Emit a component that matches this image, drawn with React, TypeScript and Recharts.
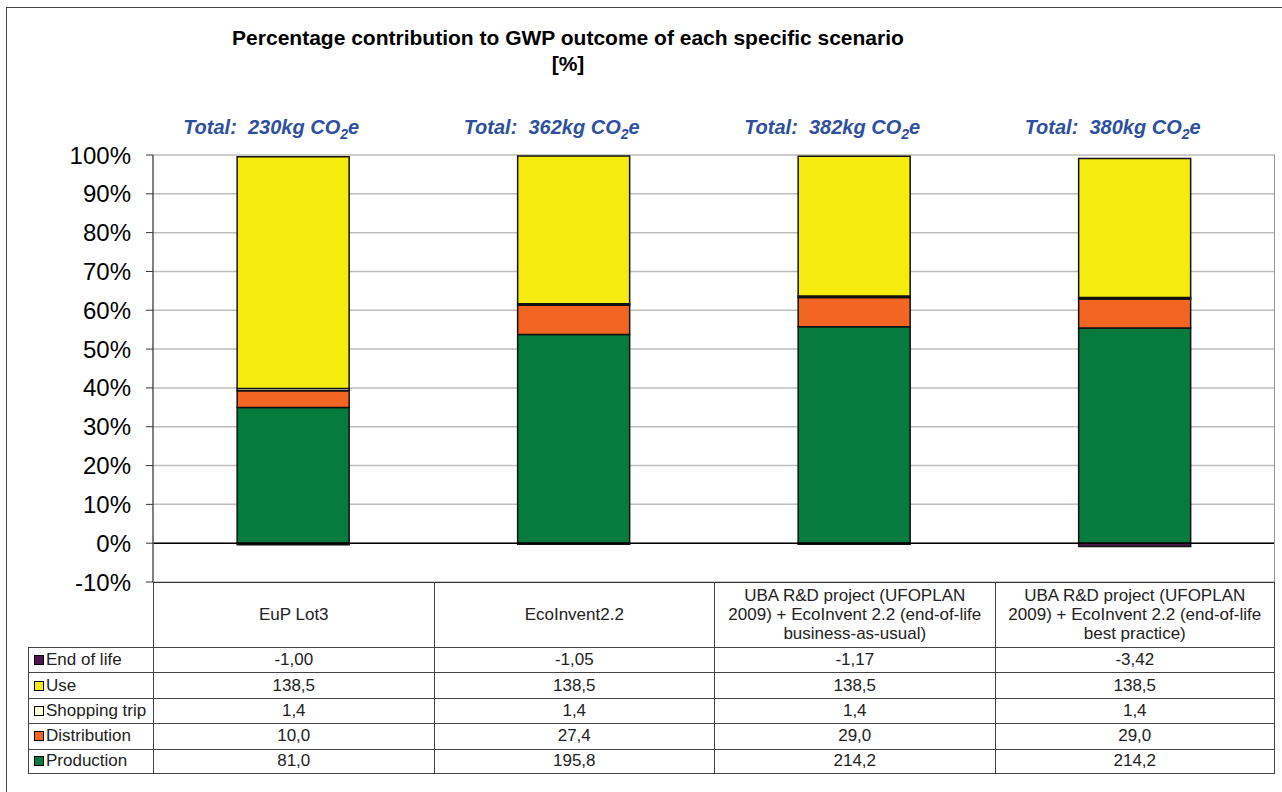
import { BarChart, Bar, XAxis, YAxis, CartesianGrid, ReferenceLine, LabelList } from "recharts";

const categories = [
  "EuP Lot3",
  "EcoInvent2.2",
  "UBA R&D project (UFOPLAN\n2009) + EcoInvent 2.2 (end-of-life\nbusiness-as-usual)",
  "UBA R&D project (UFOPLAN\n2009) + EcoInvent 2.2 (end-of-life\nbest practice)",
];

// kg CO2e per scenario
const production = [81.0, 195.8, 214.2, 214.2];
const distribution = [10.0, 27.4, 29.0, 29.0];
const shoppingTrip = [1.4, 1.4, 1.4, 1.4];
const use = [138.5, 138.5, 138.5, 138.5];
const endOfLife = [-1.0, -1.05, -1.17, -3.42];

const yTicks = [-10, 0, 10, 20, 30, 40, 50, 60, 70, 80, 90, 100];

const series = [
  { key: "Production", values: production, color: "#077A3D", digits: 1 },
  { key: "Distribution", values: distribution, color: "#F26522", digits: 1 },
  { key: "Shopping trip", values: shoppingTrip, color: "#FFFFD8", digits: 1 },
  { key: "Use", values: use, color: "#F5EB0F", digits: 1 },
  { key: "End of life", values: endOfLife, color: "#4D1650", digits: 2 },
];

// table rows are listed top-down in reverse stacking order
const tableRows = ["End of life", "Use", "Shopping trip", "Distribution", "Production"];

const W = 1282;
const H = 792;
const PLOT_LEFT = 153;
const PLOT_RIGHT = 1275;
const PLOT_TOP = 155;
const PLOT_BOTTOM = 582;
const COL_W = (PLOT_RIGHT - PLOT_LEFT) / categories.length;
const FONT = "Arial, 'Liberation Sans', sans-serif";

// Excel style 100% stack: each part over the sum of absolute values
const chartData = categories.map((name, i) => {
  const absSum = series.reduce((s, ser) => s + Math.abs(ser.values[i]), 0);
  const total = series.reduce((s, ser) => s + ser.values[i], 0);
  const row: Record<string, number | string> = { name, total: Math.round(total) };
  series.forEach((ser) => {
    row[ser.key] = (ser.values[i] / absSum) * 100;
  });
  return row;
});

const fmt = (v: number, digits: number) => v.toFixed(digits).replace(".", ",");

function TotalLabel(props: any) {
  const { x, width, value } = props;
  return (
    <text
      x={x + width / 2 - 22}
      y={PLOT_TOP - 21}
      textAnchor="middle"
      fill="#2F4F9F"
      fontSize={20}
      fontWeight="bold"
      fontStyle="italic"
      fontFamily={FONT}
      style={{ whiteSpace: "pre" }}
    >
      {`Total:  ${value}kg CO`}
      <tspan dy={5} fontSize={14}>2</tspan>
      <tspan dy={-5}>e</tspan>
    </text>
  );
}

const cellText = {
  fontSize: 17,
  color: "#222",
} as const;

export default function App() {
  const rowTop = 647;
  const rowH = 25.4;
  return (
    <div
      style={{
        position: "absolute",
        left: 0,
        top: 0,
        width: W,
        height: H,
        overflow: "hidden",
        background: "#fff",
        fontFamily: FONT,
      }}
    >
      <div
        style={{
          position: "absolute",
          left: 6,
          top: 7,
          width: W + 20,
          height: H + 20,
          border: "1.5px solid #444",
        }}
      />
      <div
        style={{
          position: "absolute",
          left: 0,
          top: 25,
          width: 1136,
          textAlign: "center",
          fontWeight: "bold",
          fontSize: 21,
          lineHeight: "26px",
          color: "#000",
        }}
      >
        Percentage contribution to GWP outcome of each specific scenario
        <br />
        [%]
      </div>

      <div style={{ position: "absolute", left: 0, top: 0 }}>
        <BarChart
          width={W}
          height={H}
          data={chartData}
          stackOffset="sign"
          barCategoryGap="30%"
          margin={{ top: PLOT_TOP, right: W - PLOT_RIGHT, bottom: H - PLOT_BOTTOM, left: 0 }}
        >
          <CartesianGrid vertical={false} stroke="#BDBDBD" strokeWidth={1.5} />
          <XAxis dataKey="name" hide />
          <YAxis
            width={PLOT_LEFT}
            domain={[-10, 100]}
            ticks={yTicks}
            interval={0}
            tickFormatter={(v) => `${v}%`}
            tick={{ fill: "#000", fontSize: 24, fontFamily: FONT }}
            tickSize={7}
            tickMargin={15}
            axisLine={{ stroke: "#555", strokeWidth: 1.5 }}
            tickLine={{ stroke: "#333" }}
          />
          <ReferenceLine y={0} stroke="#000" strokeWidth={1.5} />
          {series.map((ser) => (
            <Bar
              key={ser.key}
              dataKey={ser.key}
              stackId="s"
              fill={ser.color}
              stroke="#111"
              strokeWidth={1.5}
              isAnimationActive={false}
            >
              {ser.key === "Use" && <LabelList dataKey="total" content={TotalLabel} />}
            </Bar>
          ))}
        </BarChart>
      </div>

      {/* right edge of plot area */}
      <div
        style={{
          position: "absolute",
          left: PLOT_RIGHT - 1,
          top: PLOT_TOP,
          width: 0,
          height: PLOT_BOTTOM - PLOT_TOP,
          borderLeft: "1.5px solid #999",
        }}
      />

      {/* data table */}
      <div
        style={{
          position: "absolute",
          left: PLOT_LEFT,
          top: PLOT_BOTTOM,
          width: PLOT_RIGHT - PLOT_LEFT,
          height: rowTop - PLOT_BOTTOM,
          borderTop: "1.5px solid #333",
        }}
      />
      {categories.map((c, i) => (
        <div
          key={c}
          style={{
            ...cellText,
            position: "absolute",
            left: PLOT_LEFT + i * COL_W,
            top: PLOT_BOTTOM,
            width: COL_W,
            height: rowTop - PLOT_BOTTOM,
            borderLeft: "1px solid #444",
            borderRight: i === categories.length - 1 ? "1px solid #444" : undefined,
            boxSizing: "border-box",
            display: "flex",
            alignItems: "center",
            justifyContent: "center",
            textAlign: "center",
            whiteSpace: "pre-line",
            lineHeight: "19px",
          }}
        >
          {c}
        </div>
      ))}
      {tableRows.map((rk, r) => {
        const ser = series.find((s) => s.key === rk)!;
        const top = rowTop + r * rowH;
        return (
          <div key={rk}>
            <div
              style={{
                ...cellText,
                position: "absolute",
                left: 28,
                top,
                width: PLOT_LEFT - 28,
                height: rowH,
                borderTop: "1px solid #444",
                borderLeft: "1px solid #444",
                borderBottom: r === tableRows.length - 1 ? "1px solid #444" : undefined,
                boxSizing: "border-box",
                display: "flex",
                alignItems: "center",
                whiteSpace: "nowrap",
              }}
            >
              <span
                style={{
                  display: "inline-block",
                  flex: "none",
                  width: 8,
                  height: 8,
                  marginLeft: 5,
                  marginRight: 2,
                  background: ser.color,
                  border: "1px solid #000",
                }}
              />
              {rk}
            </div>
            {ser.values.map((v, i) => (
              <div
                key={i}
                style={{
                  ...cellText,
                  position: "absolute",
                  left: PLOT_LEFT + i * COL_W,
                  top,
                  width: COL_W,
                  height: rowH,
                  borderTop: "1px solid #444",
                  borderLeft: "1px solid #444",
                  borderRight: i === categories.length - 1 ? "1px solid #444" : undefined,
                  borderBottom: r === tableRows.length - 1 ? "1px solid #444" : undefined,
                  boxSizing: "border-box",
                  display: "flex",
                  alignItems: "center",
                  justifyContent: "center",
                }}
              >
                {fmt(v, ser.digits)}
              </div>
            ))}
          </div>
        );
      })}
    </div>
  );
}
